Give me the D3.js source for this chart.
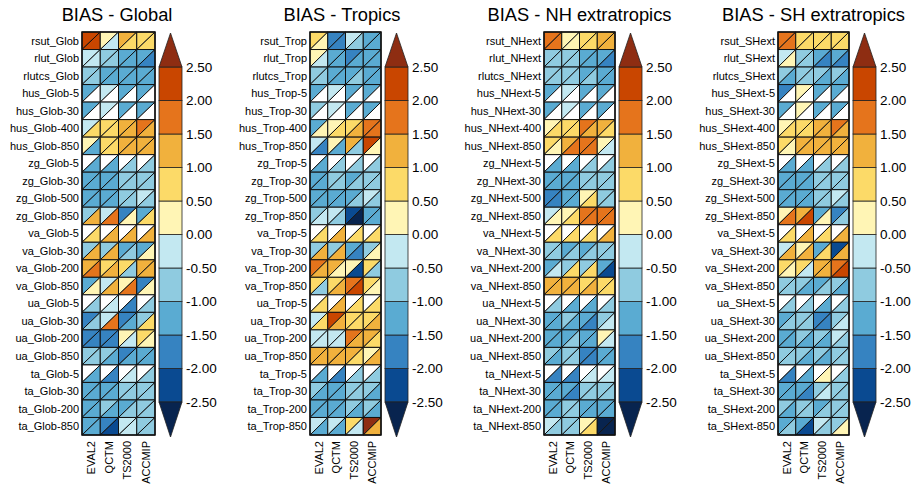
<!DOCTYPE html>
<html>
<head>
<meta charset="utf-8">
<script src="https://cdn.jsdelivr.net/npm/d3@7"></script>
<style>
  body { margin: 0; background: #fff; }
  svg { display: block; font-family: "Liberation Sans", Arial, Helvetica, sans-serif; }
</style>
</head>
<body>
<svg id="chart" width="912" height="485"></svg>
<script>
// Models (columns) and diagnostics (rows) of the portrait diagrams
const models = ["EVAL2", "QCTM", "TS2000", "ACCMIP"];
const diagnostics = [
  ["rsut", ""], ["rlut", ""], ["rlutcs", ""],
  ["hus", "-5"], ["hus", "-30"], ["hus", "-400"], ["hus", "-850"],
  ["zg", "-5"], ["zg", "-30"], ["zg", "-500"], ["zg", "-850"],
  ["va", "-5"], ["va", "-30"], ["va", "-200"], ["va", "-850"],
  ["ua", "-5"], ["ua", "-30"], ["ua", "-200"], ["ua", "-850"],
  ["ta", "-5"], ["ta", "-30"], ["ta", "-200"], ["ta", "-850"]
];
const regions = ["Glob", "Trop", "NHext", "SHext"];
const titles = ["BIAS - Global", "BIAS - Tropics", "BIAS - NH extratropics", "BIAS - SH extratropics"];

// Colour bar levels, tick labels and colours
const levels = [-2.5, -2, -1.5, -1, -0.5, 0, 0.5, 1, 1.5, 2, 2.5];
const tickLabels = ["-2.50", "-2.00", "-1.50", "-1.00", "-0.50", "0.00", "0.50", "1.00", "1.50", "2.00", "2.50"];
const palette = ["#08244f", "#0a4a91", "#3683c1", "#5aabd2", "#8fcbe0", "#c3e8f1",
                 "#fff5b5", "#fcda68", "#f1b13d", "#e5741c", "#c94600", "#8e2d12"];

// Normalised bias, upper-left triangle (first reference) and lower-right triangle (second reference)
const N = null;
const globalUpper = [
  [2.2, 0.2, 1.2, 0.7], [-0.3, -0.8, -1.2, -1.2], [-0.8, -1.2, -1.2, -1.2],
  [-1.2, -0.3, -1.2, -1.2], [-1.2, -0.3, -1.2, -1.2], [-0.3, 0.7, 1.2, 1.7], [0.2, 0.7, 1.2, 1.2],
  [N, N, N, N], [-1.2, -1.2, -0.8, -0.8], [-1.2, -1.2, -0.8, -0.3], [-0.8, -0.3, -1.7, -1.2],
  [N, N, N, N], [-0.8, -0.8, -1.2, -1.2], [1.2, 0.7, 0.7, 1.2], [-1.2, -0.3, 0.2, -1.7],
  [N, N, N, N], [-1.7, -0.3, -1.7, -0.8], [-1.7, -1.7, 0.2, 0.7], [-0.8, -0.8, -1.7, -1.2],
  [N, N, N, N], [-1.2, -1.2, -0.8, -0.8], [-1.2, -0.8, -1.2, -0.8], [-1.2, -1.7, -0.3, -0.8]
];
const globalLower = [
  [2.2, -0.3, 0.7, 0.7], [-0.3, -0.8, -1.2, -1.7], [-0.8, -1.2, -1.2, -1.2],
  [N, N, N, N], [N, N, N, N], [0.7, 0.7, 1.2, 1.2], [-1.2, 0.7, 1.2, 1.2],
  [-1.2, -1.2, -0.8, -0.8], [-1.2, -1.2, -0.8, -0.8], [-1.2, -1.2, -0.8, -0.8], [1.2, 1.7, 0.2, 0.7],
  [0.7, 1.2, 1.2, 1.2], [1.2, 1.2, -0.8, 0.2], [1.7, 1.2, -0.8, 1.2], [0.2, 1.2, 1.7, 0.2],
  [-0.8, -0.3, -1.7, -0.8], [-0.8, 1.7, -1.2, 0.7], [-1.7, -1.7, -0.3, 0.2], [-0.8, -1.2, -1.2, -1.2],
  [-1.2, -1.7, -0.3, -0.8], [-1.2, -1.2, -0.8, -0.8], [-1.2, -1.2, -0.8, -0.8], [-1.2, -2.2, -0.3, -0.8]
];
const tropicsUpper = [
  [0.7, -1.7, -0.3, -1.2], [0.2, -1.2, -1.7, -1.2], [-0.8, -1.2, -1.2, -1.2],
  [-1.2, -0.3, -1.2, -1.2], [-0.8, -0.3, -1.2, -1.2], [-1.2, 0.2, 0.7, 1.7], [-0.3, 0.2, 1.2, 2.2],
  [N, N, N, N], [-1.2, -0.8, -1.2, -0.8], [-1.2, -1.2, -1.2, -0.3], [-0.8, -0.3, -2.2, -1.2],
  [N, N, N, N], [-0.8, -0.8, -1.2, -0.8], [1.7, 1.2, 0.2, 0.7], [0.7, 0.7, 1.7, 0.7],
  [N, N, N, N], [-0.3, 2.2, 0.7, 0.7], [-0.3, -0.3, 1.7, 1.2], [1.2, 1.2, 1.2, 0.2],
  [N, N, N, N], [-0.8, -1.2, -0.8, -0.8], [-1.2, -1.2, -0.8, -0.8], [-0.3, -0.3, 0.7, 2.8]
];
const tropicsLower = [
  [0.2, -1.7, -0.8, -1.2], [-0.3, -1.2, -1.2, -1.2], [-0.8, -1.2, -0.8, -1.2],
  [N, N, N, N], [N, N, N, N], [0.2, 0.7, 1.2, 1.7], [-1.7, -1.2, -0.8, 0.2],
  [-1.2, -0.8, -0.8, -0.8], [-1.2, -0.8, -0.8, -0.8], [-1.2, -1.2, -0.8, -0.8], [-0.3, -0.8, -2.8, -1.2],
  [0.7, 1.2, 0.7, 0.7], [1.2, 1.2, -1.7, 0.2], [1.2, 0.2, -2.2, -0.8], [-0.8, 1.2, 2.2, 0.2],
  [0.7, 1.2, 0.7, 0.7], [0.7, 1.2, 0.7, 1.2], [-0.3, -0.3, 1.2, 0.7], [1.2, 1.2, 0.7, 1.2],
  [-1.2, -1.7, -0.8, -0.8], [-1.2, -1.2, -0.8, -1.2], [-1.2, -1.2, -1.2, -1.2], [-1.2, -1.2, -0.3, 1.2]
];
const nhUpper = [
  [1.7, 0.2, 0.7, 1.2], [-0.8, -0.8, -1.2, -1.2], [-0.8, -0.8, -1.2, -1.2],
  [-1.2, -0.3, -1.2, -1.2], [-1.2, -0.3, -1.2, -1.2], [0.2, 0.7, 1.7, 1.2], [0.7, 1.2, 1.7, 0.2],
  [N, N, N, N], [-1.2, -1.2, -0.8, -0.8], [-1.7, -1.2, 0.2, -0.8], [-0.3, 0.2, 1.7, 1.7],
  [N, N, N, N], [-0.8, -1.2, -1.2, -0.8], [-1.2, -0.8, -0.8, -1.2], [1.2, 1.2, 0.7, 0.7],
  [N, N, N, N], [-1.2, -0.8, -1.2, -0.8], [-1.2, -1.2, -1.2, 0.2], [-0.8, -0.8, -1.7, -1.2],
  [N, N, N, N], [-1.2, -1.2, -0.8, -0.8], [-1.2, -0.8, -1.2, -1.2], [-0.3, -0.8, 0.2, -2.8]
];
const nhLower = [
  [1.7, 0.2, 0.7, 1.2], [-0.8, -0.8, -1.2, -1.7], [-0.8, -0.8, -0.8, -1.2],
  [N, N, N, N], [N, N, N, N], [0.7, 0.7, 1.2, 0.7], [0.2, 1.7, 1.7, -0.3],
  [-1.2, -1.2, -0.8, -0.8], [-1.2, -1.2, -0.8, -0.8], [-1.7, -1.2, 0.7, -0.8], [0.2, 0.7, 1.7, 1.7],
  [0.7, 0.7, 0.7, 1.2], [-0.8, -0.8, -0.8, -0.8], [-0.3, 0.7, 0.7, -2.2], [1.2, 1.2, 1.2, 0.7],
  [-0.8, -1.2, -1.2, -0.8], [-1.2, -1.2, -1.7, -0.3], [-1.2, -0.8, -1.2, -0.3], [-1.2, -0.8, -1.7, -1.2],
  [-1.7, -1.7, -0.3, -0.3], [-1.2, -1.7, -0.8, -0.8], [-1.2, -0.8, -1.2, -1.2], [-0.8, -0.8, 0.7, -2.8]
];
const shUpper = [
  [1.7, 0.7, 0.7, 0.7], [-0.3, -0.8, -1.2, -1.2], [-0.8, -0.8, -0.8, -0.8],
  [-1.7, 0.2, -1.2, -1.2], [-1.2, 0.2, -1.2, -1.2], [0.2, 0.7, 1.2, 1.7], [0.7, 1.2, 1.2, 1.2],
  [N, N, N, N], [-1.2, -1.2, -0.8, -0.8], [-1.2, -1.2, -0.8, -0.3], [0.2, 1.2, -1.2, -1.7],
  [N, N, N, N], [-0.3, 0.2, -1.2, -2.2], [0.7, 0.7, 1.2, 1.7], [-0.8, -0.8, -1.2, -0.8],
  [N, N, N, N], [-1.2, -0.8, -1.7, -0.8], [-1.2, -0.8, -0.8, -0.3], [-0.8, -0.8, -0.8, -0.8],
  [N, N, N, N], [-1.2, -1.2, -0.8, -0.8], [-0.8, -0.8, -1.2, -0.8], [-1.2, -1.2, -0.3, -0.8]
];
const shLower = [
  [1.7, 0.7, 0.7, 0.7], [0.2, -0.8, -1.7, -1.7], [-1.2, -0.8, -1.2, -1.2],
  [N, N, N, N], [N, N, N, N], [0.7, 0.7, 1.2, 1.2], [0.2, 1.2, 1.2, 1.2],
  [-1.2, -1.2, -0.8, -0.8], [-1.2, -1.2, -0.8, -0.8], [-1.2, -1.2, -0.8, -0.8], [1.7, 2.2, 0.2, -0.8],
  [0.7, 1.2, 0.7, 1.2], [1.2, 1.2, 0.7, 1.2], [0.2, -0.3, 1.2, 2.2], [-0.8, -1.2, -0.8, -1.2],
  [-0.8, -0.8, -1.2, -0.8], [-0.8, -0.8, -1.7, -0.3], [-1.2, -1.2, -1.2, -0.8], [-0.8, -1.2, -1.2, -0.8],
  [-1.7, -1.2, 0.2, -0.8], [-1.2, -1.7, -0.3, -0.8], [-1.2, -0.8, -0.8, -0.8], [-0.8, -2.2, -0.8, 0.2]
];

const panels = [
  { title: titles[0], region: regions[0], upper: globalUpper, lower: globalLower, x0: 82, x1: 155, tx: 117 },
  { title: titles[1], region: regions[1], upper: tropicsUpper, lower: tropicsLower, x0: 310, x1: 381, tx: 342 },
  { title: titles[2], region: regions[2], upper: nhUpper, lower: nhLower, x0: 544, x1: 615, tx: 579.5 },
  { title: titles[3], region: regions[3], upper: shUpper, lower: shLower, x0: 778, x1: 849, tx: 813.5 }
];

const gridTop = 32, gridBottom = 435;
const color = d3.scaleThreshold().domain(levels).range(palette);
const fillFor = v => (v === null || v === undefined) ? "#ffffff" : color(v);

const svg = d3.select("#chart");

panels.forEach(p => {
  const g = svg.append("g");
  const rowNames = diagnostics.map(d => `${d[0]}_${p.region}${d[1]}`);
  const x = d3.scaleBand().domain(models).range([p.x0, p.x1]);
  const y = d3.scaleBand().domain(rowNames).range([gridTop, gridBottom]);
  const w = x.bandwidth(), h = y.bandwidth();

  // title
  g.append("text")
    .attr("x", p.tx).attr("y", 21)
    .attr("text-anchor", "middle")
    .attr("font-size", 18.3).attr("fill", "#000")
    .text(p.title);

  // cells: one triangle per reference dataset
  const cells = [];
  rowNames.forEach((r, i) => models.forEach((m, j) => {
    cells.push({ r, m, v: p.upper[i][j], part: "upper" });
    cells.push({ r, m, v: p.lower[i][j], part: "lower" });
  }));
  g.append("g").selectAll("path").data(cells).join("path")
    .attr("d", c => {
      const cx = x(c.m), cy = y(c.r);
      return c.part === "upper"
        ? `M${cx},${cy}L${cx + w},${cy}L${cx},${cy + h}Z`
        : `M${cx + w},${cy}L${cx + w},${cy + h}L${cx},${cy + h}Z`;
    })
    .attr("fill", c => fillFor(c.v))
    .attr("stroke", "#111").attr("stroke-width", 1)
    .attr("stroke-linejoin", "miter");

  // outer frame
  g.append("rect")
    .attr("x", p.x0).attr("y", gridTop)
    .attr("width", p.x1 - p.x0).attr("height", gridBottom - gridTop)
    .attr("fill", "none").attr("stroke", "#111").attr("stroke-width", 1.5);

  // row labels
  g.append("g").selectAll("text").data(rowNames).join("text")
    .attr("x", p.x0 - 3).attr("y", r => y(r) + h / 2)
    .attr("dy", "0.35em").attr("text-anchor", "end")
    .attr("font-size", 11).attr("fill", "#000")
    .text(r => r);

  // column labels, rotated
  g.append("g").selectAll("text").data(models).join("text")
    .attr("transform", m => `translate(${x(m) + w / 2},${gridBottom + 6}) rotate(-90)`)
    .attr("dy", "0.35em").attr("text-anchor", "end")
    .attr("font-size", 11).attr("fill", "#000")
    .text(m => m);

  // colour bar
  const cbX = p.x1 + 4, cbW = 23;
  const cy = d3.scaleLinear().domain([levels[0], levels[levels.length - 1]]).range([402, 67]);
  const cb = g.append("g");
  const boxes = d3.range(levels.length - 1).map(k => ({ lo: levels[k], hi: levels[k + 1], c: palette[k + 1] }));
  cb.selectAll("rect").data(boxes).join("rect")
    .attr("x", cbX).attr("y", d => cy(d.hi))
    .attr("width", cbW).attr("height", d => cy(d.lo) - cy(d.hi))
    .attr("fill", d => d.c).attr("stroke", "#222").attr("stroke-width", 0.8);
  cb.append("path")
    .attr("d", `M${cbX},${cy(levels[levels.length - 1])}L${cbX + cbW / 2},33L${cbX + cbW},${cy(levels[levels.length - 1])}Z`)
    .attr("fill", palette[palette.length - 1]).attr("stroke", "#222").attr("stroke-width", 0.8);
  cb.append("path")
    .attr("d", `M${cbX},${cy(levels[0])}L${cbX + cbW / 2},437L${cbX + cbW},${cy(levels[0])}Z`)
    .attr("fill", palette[0]).attr("stroke", "#222").attr("stroke-width", 0.8);

  const axis = d3.axisRight(cy).tickValues(levels).tickSize(0).tickPadding(4)
    .tickFormat((d, i) => tickLabels[i]);
  const ax = cb.append("g").attr("transform", `translate(${cbX + cbW},0)`).call(axis);
  ax.select(".domain").remove();
  ax.selectAll("text").attr("font-size", 13.5).attr("fill", "#000")
    .attr("font-family", "'Liberation Sans', Arial, Helvetica, sans-serif");
});
</script>
</body>
</html>
